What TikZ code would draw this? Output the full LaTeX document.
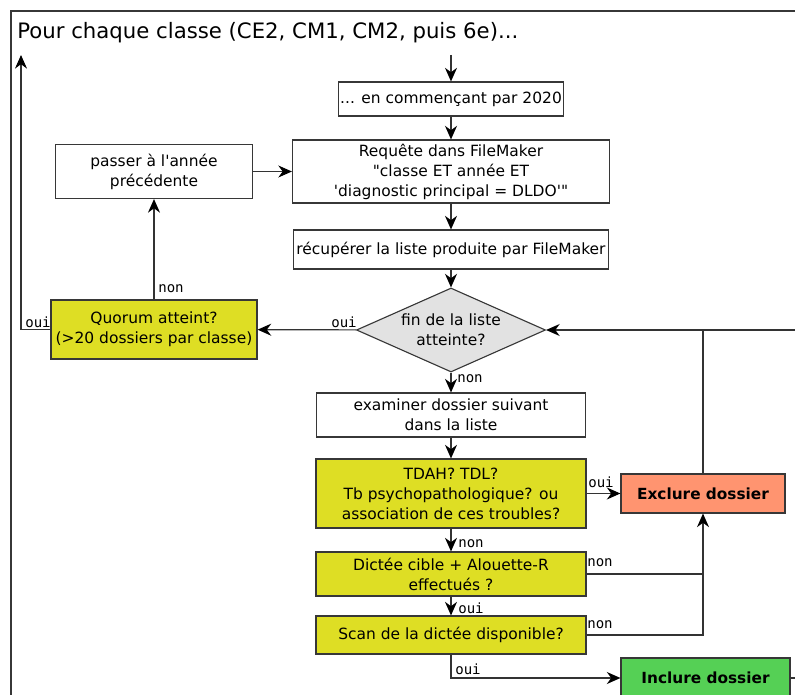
\documentclass[tikz,border=0pt]{standalone}
\usepackage{fontspec}
\setmainfont{DejaVu Sans}[Ligatures=TeXOff]
\setmonofont{DejaVu Sans Mono}
\usetikzlibrary{arrows.meta,shapes.geometric}
\definecolor{ink}{RGB}{55,55,55}
\definecolor{quiz}{RGB}{222,222,36}
\definecolor{reject}{RGB}{255,148,112}
\definecolor{accept}{RGB}{85,208,85}
\definecolor{pale}{RGB}{226,226,226}

\begin{document}
\begin{tikzpicture}[
      x=0.025cm, y=-0.025cm,
      every node/.style={font=\fontsize{11}{14.2}\selectfont},
      box/.style={draw=ink, line width=0.8pt, fill=white, align=center, inner sep=1pt},
      query/.style={box, fill=quiz},
      verdict/.style={box, font=\fontsize{10.9}{12}\selectfont\bfseries},
      choice/.style={diamond, draw=ink, line width=0.8pt, fill=pale, align=center,
        inner sep=0pt, aspect=2.25, minimum width=4.725cm, minimum height=2.1cm},
      tag/.style={font=\ttfamily\fontsize{10}{11}\selectfont, inner sep=0pt},
      flow/.style={draw=black!80, line width=0.8pt},
      arrow/.style={flow, -{Stealth[length=3.4mm, width=3mm, inset=1.1mm, black]}}
    ]
    \useasboundingbox (0,0) rectangle (795,695);
    \clip (0,0) rectangle (795,695);

    % Frame and heading
    \draw[draw=ink, line width=0.8pt] (11,720) -- (11,11) -- (820,11);
    \node[anchor=west, inner sep=0pt, font=\fontsize{15.1}{18}\selectfont] (title) at (17,33)
      {Pour chaque classe (CE2, CM1, CM2, puis 6e)...};
    \coordinate (entry) at (451,55);
    \coordinate (loopout) at (21,55);
    \coordinate (loopin) at (820,330);
    \coordinate (inclout) at (820,678);

    % Query for one year
    \node[box, minimum width=5.625cm, minimum height=0.85cm] (start) at (451,99)
      {... en commençant par 2020};
    \node[box, minimum width=7.925cm, minimum height=1.575cm] (requete) at (451,171.5)
      {Requête dans FileMaker\\"classe ET année ET\\'diagnostic principal = DLDO'"};
    \node[box, minimum width=4.925cm, minimum height=1.35cm] (passer) at (154,171.5)
      {passer à l'année\\précédente};
    \node[box, minimum width=7.875cm, minimum height=0.975cm] (recup) at (451,249.5)
      {récupérer la liste produite par FileMaker};
    \node[choice] (fin) at (451,330) {fin de la liste\\atteinte?};
    \node[query, minimum width=5.15cm, minimum height=1.475cm] (quorum) at (154,329.5)
      {Quorum atteint?\\(>20 dossiers par classe)};

    % One file after the other
    \node[box, minimum width=6.725cm, minimum height=1.1cm] (examiner) at (451,415)
      {examiner dossier suivant\\dans la liste};
    \node[query, minimum width=6.75cm, minimum height=1.725cm] (tdah) at (451,493.5)
      {TDAH? TDL?\\Tb psychopathologique? ou\\association de ces troubles?};
    \node[query, minimum width=6.75cm, minimum height=1.1cm] (dictee) at (451,574)
      {Dictée cible + Alouette-R\\effectués ?};
    \node[query, minimum width=6.75cm, minimum height=0.95cm] (scan) at (451,635)
      {Scan de la dictée disponible?};
    \node[verdict, fill=reject, minimum width=4.1cm, minimum height=0.975cm] (exclure) at (703,493.5)
      {Exclure dossier};
    \node[verdict, fill=accept, minimum width=4.225cm, minimum height=1cm] (inclure) at (705.5,678)
      {Inclure dossier};

    % Connectors
    \draw[arrow] (entry) -- (start);
    \draw[arrow] (start) -- (requete);
    \draw[arrow] (passer) -- (requete);
    \draw[arrow] (requete) -- (recup);
    \draw[arrow] (recup) -- (fin);
    \draw[arrow] (fin) -- (quorum);
    \draw[arrow] (quorum) -- (passer);
    \draw[arrow] (quorum.west) -| (loopout);
    \draw[arrow] (fin) -- (examiner);
    \draw[arrow] (examiner) -- (tdah);
    \draw[arrow] (tdah) -- (exclure);
    \draw[arrow] (tdah) -- (dictee);
    \draw[arrow] (dictee) -- (scan);
    \draw[flow] (dictee.east) -- (dictee.east -| exclure);
    \draw[arrow] (scan.east) -| (exclure.south);
    \draw[arrow] (scan.south) |- (inclure.west);
    \draw[flow] (inclure.east) -- (inclout);
    \draw[flow] (exclure.north) -- (exclure.north |- fin.east);
    \draw[arrow] (loopin) -- (fin.east);

    % Answers
    \node[tag] (o1) at (344,322) {oui};
    \node[tag] (o2) at (38,322) {oui};
    \node[tag] (n1) at (171,289) {non};
    \node[tag] (n2) at (470,379) {non};
    \node[tag] (o3) at (601,482) {oui};
    \node[tag] (n3) at (471,544) {non};
    \node[tag] (n4) at (600,563) {non};
    \node[tag] (o4) at (471,608) {oui};
    \node[tag] (n5) at (600,625) {non};
    \node[tag] (o5) at (468,669) {oui};
  \end{tikzpicture}
\end{document}
